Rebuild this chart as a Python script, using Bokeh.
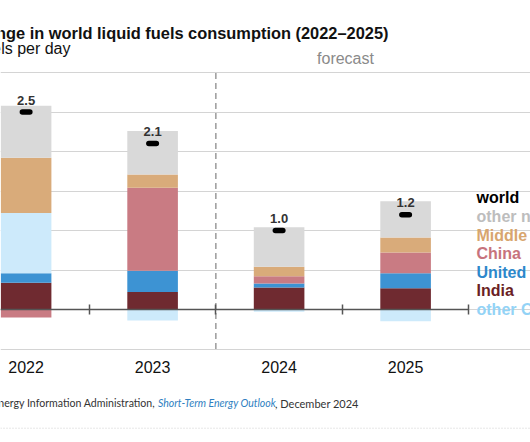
import numpy as np
from bokeh.plotting import figure
from bokeh.models import Range1d, FixedTicker, Label, Span
from bokeh.embed import file_html
from bokeh.resources import INLINE
from bokeh.core.properties import value

# ---------------- data ----------------
years = ["2022", "2023", "2024", "2025"]
forecast_from = "2024"
world = [2.5, 2.1, 1.0, 1.2]
india = [0.34, 0.22, 0.28, 0.27]
united_states = [0.12, 0.27, 0.05, 0.19]
other_oecd = [0.76, -0.14, -0.03, -0.15]
china = [-0.10, 1.05, 0.09, 0.26]
middle_east = [0.70, 0.17, 0.12, 0.19]
other_non_oecd = [0.66, 0.55, 0.50, 0.46]
y_ticks = [-0.5, 0.0, 0.5, 1.0, 1.5, 2.0, 2.5, 3.0]
legend_names = ["world", "other non-OECD", "Middle East", "China",
                "United States", "India", "other OECD"]

title_text = "Annual change in world liquid fuels consumption (2022\u20132025)"
subtitle_text = "million barrels per day"
source_a = "Data source: U.S. Energy Information Administration, "
source_b = "Short-Term Energy Outlook"
source_c = ", December 2024"

# ---------------- styles ----------------
bar_colors = {"India": "#6f2a30", "United States": "#3d93d3", "other OECD": "#cdeafb",
              "China": "#c97b83", "Middle East": "#d9ab7a", "other non-OECD": "#d9d9d9"}
legend_colors = ["#000000", "#bdbdbd", "#d8a56e", "#c7737d", "#2d88cb", "#6b1f25", "#93d3f6"]
ARIAL_NAME = "Liberation Sans"
ARIAL = value(ARIAL_NAME)

# layout mapping (pixels of the page)
W, H = 530, 442
X0, DX = 25.6, 126.5      # page-x of first category centre, px per category
Y0, DY = 309.0, 79.0      # page-y of zero line, px per unit
SHIFT = 0.45              # baseline correction, fraction of font size


def fx(px):
    return (px - X0) / DX


def fy(py):
    return (Y0 - py) / DY


def ty(py, size):
    """data y for a text whose alphabetic baseline should sit at page-y py"""
    return fy(py - SHIFT * size)


p = figure(width=W, height=H, output_backend="svg", toolbar_location=None,
           x_range=Range1d(fx(0), fx(W)),
           y_range=Range1d(fy(H), fy(0)),
           min_border=0, y_axis_location=None,
           outline_line_color=None, background_fill_color="white",
           border_fill_color="white")

xs = np.arange(len(years), dtype=float)

# grid
p.xgrid.visible = False
p.ygrid.ticker = FixedTicker(ticks=y_ticks)
p.ygrid.grid_line_color = "#d4d4d4"
p.ygrid.grid_line_width = 1
p.ygrid.bounds = (-1.0, len(years) - 0.5)

# stacked bars
series = [("India", india), ("United States", united_states), ("other OECD", other_oecd),
          ("China", china), ("Middle East", middle_east), ("other non-OECD", other_non_oecd)]
pos = np.zeros(len(years))
neg = np.zeros(len(years))
for name, vals in series:
    v = np.array(vals, dtype=float)
    bottom = np.where(v >= 0, pos, neg)
    top = bottom + v
    pos = np.where(v >= 0, top, pos)
    neg = np.where(v < 0, top, neg)
    p.vbar(x=xs, bottom=bottom, top=top, width=0.4, fill_color=bar_colors[name],
           line_color=None)

# zero axis with ticks at category boundaries
tick_pos = [i + 0.5 for i in range(len(years))]
p.xaxis.fixed_location = 0
p.xaxis.ticker = FixedTicker(ticks=tick_pos)
p.xaxis.major_label_overrides = {t: "" for t in tick_pos}
p.xaxis.major_label_standoff = 0
p.xaxis.major_tick_in = 5
p.xaxis.major_tick_out = 5
p.xaxis.minor_tick_line_color = None
p.xaxis.axis_line_color = "#555555"
p.xaxis.axis_line_width = 1.5
p.xaxis.major_tick_line_color = "#555555"
p.xaxis.major_tick_line_width = 1.5
p.xaxis.bounds = (-1.0, len(years) - 0.5)

# forecast divider
fc = years.index(forecast_from) - 0.5
p.segment(x0=[fc], x1=[fc], y0=[y_ticks[0]], y1=[y_ticks[-1]],
          line_color="#9a9a9a", line_width=1.5, line_dash="6 4")

# world markers and labels
d = 3.75 / DX
p.segment(x0=xs - d, x1=xs + d, y0=world, y1=world, line_color="black",
          line_width=5.5, line_cap="round")
label_gap = (6.0 + SHIFT * 13) / DY
p.text(x=xs, y=[w + label_gap for w in world], text=[f"{w:.1f}" for w in world],
       text_align="center", text_baseline="alphabetic", text_font=ARIAL,
       text_font_style="bold", text_font_size="13px", text_color="#333333")

# year labels
p.text(x=xs, y=[ty(373.5, 16)] * len(years), text=years, text_align="center",
       text_baseline="alphabetic", text_font=ARIAL, text_font_size="16px",
       text_color="#111111")

# legend texts
p.text(x=[fx(476)] * len(legend_names),
       y=[ty(204.5 + 18.6 * i, 16) for i in range(len(legend_names))],
       text=legend_names, text_color=legend_colors, text_align="left",
       text_baseline="alphabetic", text_font=ARIAL, text_font_style="bold",
       text_font_size="16px")

# titles
p.add_layout(Label(x=fx(388), y=ty(39.5, 16), text=title_text, text_align="right",
                   text_baseline="alphabetic", text_font=ARIAL_NAME, text_font_style="bold",
                   text_font_size="16.4px", text_color="#111111"))
p.add_layout(Label(x=fx(70), y=ty(55.5, 16), text=subtitle_text, text_align="right",
                   text_baseline="alphabetic", text_font=ARIAL_NAME, text_font_size="16px",
                   text_color="#111111"))
p.add_layout(Label(x=fx(345), y=ty(65.5, 16), text="forecast", text_align="center",
                   text_baseline="alphabetic", text_font=ARIAL_NAME, text_font_size="16px",
                   text_color="#8a8a8a"))

# source line
SRC = "Lato"
p.add_layout(Label(x=fx(157.5), y=ty(407.5, 11), text=source_a, text_align="right",
                   text_baseline="alphabetic", text_font=SRC, text_font_size="10.6px",
                   text_color="#333333"))
p.add_layout(Label(x=fx(157.5), y=ty(407.5, 11), text=source_b, text_align="left",
                   text_baseline="alphabetic", text_font=SRC, text_font_style="italic",
                   text_font_size="10.5px", text_color="#2f7fc1"))
p.add_layout(Label(x=fx(274.5), y=ty(407.5, 11), text=source_c, text_align="left",
                   text_baseline="alphabetic", text_font=SRC, text_font_size="11px",
                   text_color="#333333"))

p.add_layout(Span(location=fy(427.7), dimension="width", line_color="#cfcfcf",
                  line_width=1, line_dash="1 2"))

open("out.html", "w").write(file_html(p, INLINE))
